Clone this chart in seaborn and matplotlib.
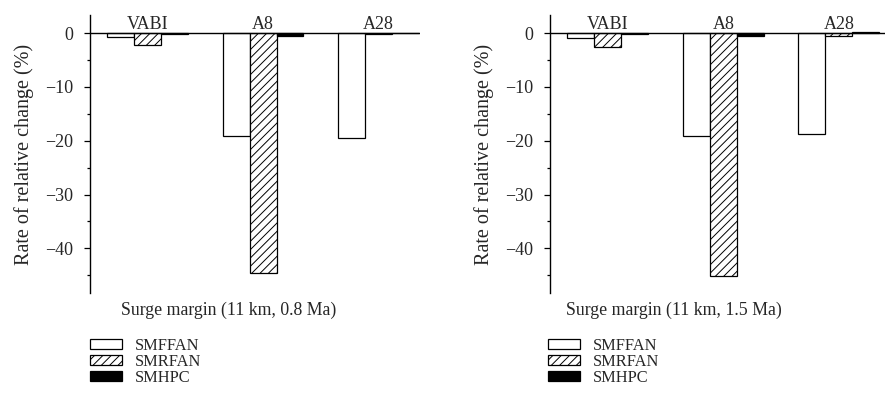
import matplotlib
matplotlib.use('Agg')
import matplotlib.pyplot as plt
import seaborn as sns
import pandas as pd
from matplotlib.patches import Patch
from matplotlib.ticker import MultipleLocator

groups = ['VABI', 'A8', 'A28']
series = ['SMFFAN', 'SMRFAN', 'SMHPC']

left_smffan = [-0.8, -19.1, -19.5]
left_smrfan = [-2.2, -44.6, -0.25]
left_smhpc = [-0.25, -0.5, -0.05]

right_smffan = [-0.9, -19.1, -18.7]
right_smrfan = [-2.6, -45.1, -0.6]
right_smhpc = [-0.2, -0.5, 0.1]

left_title = 'Surge margin (11 km, 0.8 Ma)'
right_title = 'Surge margin (11 km, 1.5 Ma)'
ylabel = 'Rate of relative change (%)'
yticks = [0, -10, -20, -30, -40]


def make_df(a, b, c):
    rows = []
    for s, vals in zip(series, [a, b, c]):
        for g, v in zip(groups, vals):
            rows.append({'group': g, 'series': s, 'value': v})
    return pd.DataFrame(rows)


sns.set_style('white')
plt.rcParams['font.family'] = ['Liberation Serif', 'DejaVu Serif']
plt.rcParams['hatch.linewidth'] = 0.7

W, H = 885, 412
fig = plt.figure(figsize=(W / 100, H / 100), dpi=100)

fs_tick = 13
fs_group = 13
fs_ylab = 14.5
fs_title = 12.8
fs_leg = 11.8


def px_axes(x0, x1, ytop, ybot):
    return fig.add_axes([x0 / W, 1 - ybot / H, (x1 - x0) / W, (ybot - ytop) / H])


panels = [
    (px_axes(90, 420, 15, 293), make_df(left_smffan, left_smrfan, left_smhpc), (-0.5, 2.36), left_title, 229, 90),
    (px_axes(550, 885, 15, 293), make_df(right_smffan, right_smrfan, right_smhpc), (-0.5, 2.40), right_title, 674, 548),
]

for ax, df, xl, title, tx, lx in panels:
    sns.barplot(data=df, x='group', y='value', hue='series', order=groups,
                hue_order=series, palette=['white', 'white', 'black'],
                saturation=1, edgecolor='black', linewidth=0.9, width=0.7,
                ax=ax, legend=False, errorbar=None)
    for bar in ax.containers[1]:
        bar.set_hatch('////')
    ax.set_xlim(*xl)
    ax.set_ylim(-48.3, 3.35)
    ax.axhline(0, color='black', lw=1.0, zorder=5)
    for s in ['top', 'right', 'bottom']:
        ax.spines[s].set_visible(False)
    ax.spines['left'].set_linewidth(1.0)
    ax.spines['left'].set_color('black')
    ax.set_xticks([])
    ax.set_xlabel('')
    ax.set_yticks(yticks)
    ax.set_yticklabels(['0' if t == 0 else '\u2212%d' % abs(t) for t in yticks])
    ax.yaxis.set_minor_locator(MultipleLocator(5))
    ax.tick_params(axis='y', which='major', direction='out', length=4, width=0.9,
                   pad=8, labelsize=fs_tick, left=True, color='black')
    ax.tick_params(axis='y', which='minor', direction='out', length=2.5, width=0.9,
                   left=True, color='black')
    ax.set_ylabel(ylabel, fontsize=fs_ylab, labelpad=8)
    for i, g in enumerate(groups):
        ax.text(i, 1.6, g, ha='center', va='center', fontsize=fs_group)
    fig.text(tx / W, 1 - 310 / H, title, ha='center', va='center', fontsize=fs_title)
    handles = [Patch(facecolor='white', edgecolor='black', lw=0.9),
               Patch(facecolor='white', edgecolor='black', hatch='////', lw=0.9),
               Patch(facecolor='black', edgecolor='black', lw=0.9)]
    fig.legend(handles, series, loc='upper left',
               bbox_to_anchor=(lx / W, 1 - 338 / H), frameon=False,
               fontsize=fs_leg, borderpad=0, borderaxespad=0, labelspacing=0.0,
               handlelength=1.95, handleheight=0.6, handletextpad=0.78)

fig.savefig('out.png', dpi=100)
